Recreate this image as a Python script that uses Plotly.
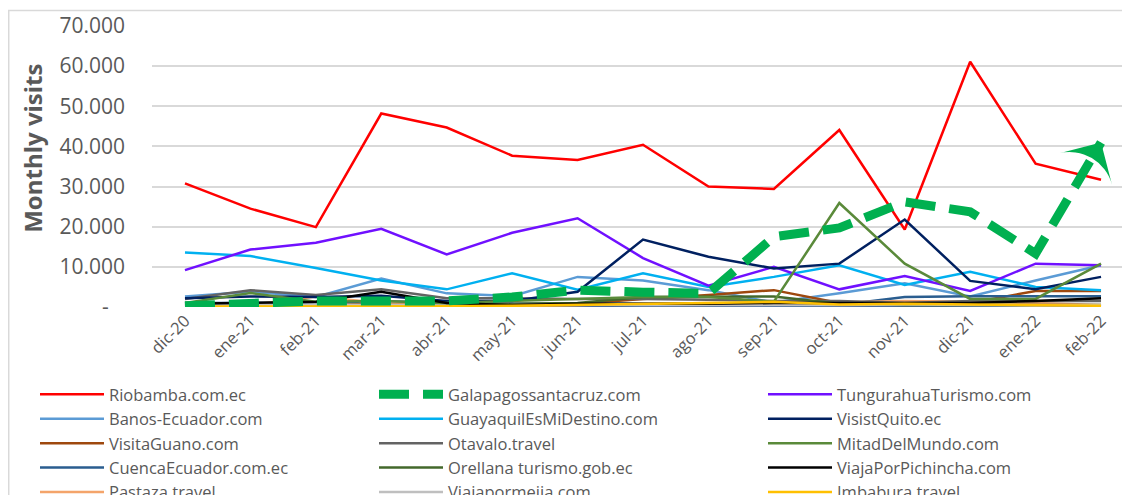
import plotly.graph_objects as go

months = ['dic-20', 'ene-21', 'feb-21', 'mar-21', 'abr-21', 'may-21', 'jun-21', 'jul-21',
          'ago-21', 'sep-21', 'oct-21', 'nov-21', 'dic-21', 'ene-22', 'feb-22']

riobamba = [30800, 24500, 19900, 48200, 44700, 37700, 36600, 40400, 30000, 29400, 44100, 19300, 61100, 35700, 31700]
galapagos = [300, 1000, 1500, 1500, 1500, 2500, 4200, 3700, 3400, 17500, 19700, 26200, 23700, 13300, 41000]
tungurahua = [9200, 14300, 16000, 19500, 13100, 18500, 22100, 12200, 5300, 10000, 4400, 7700, 4000, 10800, 10400]
banos = [2600, 3800, 2500, 7100, 3400, 2700, 7500, 6600, 4200, 1100, 3400, 5900, 2600, 6600, 10400]
guayaquil = [13600, 12700, 9700, 6600, 4400, 8400, 4300, 8400, 5000, 7500, 10400, 5500, 8800, 5000, 4200]
quito = [2200, 2600, 2500, 2800, 1500, 1500, 3800, 16800, 12500, 9600, 10800, 21800, 6500, 4400, 7500]
guano = [500, 600, 600, 800, 500, 500, 800, 2000, 3000, 4200, 1000, 1000, 1000, 4000, 4000]
otavalo = [2000, 4200, 3000, 4400, 2200, 2200, 2000, 2000, 1800, 1500, 1500, 1000, 1500, 1500, 1500]
mitad = [1000, 3500, 1300, 1500, 1000, 1500, 2000, 2500, 2500, 1300, 25900, 10800, 2000, 2000, 10800]
cuenca = [1000, 1000, 1000, 1500, 1000, 800, 800, 800, 800, 500, 500, 2500, 2700, 2700, 2700]
orellana = [500, 500, 500, 500, 500, 800, 1000, 2500, 2500, 2600, 800, 500, 500, 500, 500]
pichincha = [800, 1000, 1300, 3800, 1000, 500, 800, 800, 800, 1000, 1000, 1000, 1000, 1500, 2200]
pastaza = [300, 500, 2600, 1000, 300, 300, 500, 800, 1000, 800, 1200, 1500, 1300, 1000, 500]
mejia = [400, 500, 600, 500, 400, 500, 600, 500, 500, 400, 500, 600, 500, 400, 500]
imbabura = [100, 100, 200, 200, 200, 300, 500, 800, 1000, 1300, 600, 800, 600, 400, 300]
otros = [150, 100, 150, 200, 150, 100, 150, 200, 150, 100, 150, 200, 150, 100, 150]

y_ticks = [0, 10000, 20000, 30000, 40000, 50000, 60000, 70000]
y_labels = ['-\u00a0\u00a0\u00a0', '10.000', '20.000', '30.000', '40.000', '50.000', '60.000', '70.000']

GREY = '#595959'
FONT = 'Open Sans'

# (name, values, color, legend column, row)
series = [
    ('Riobamba.com.ec', riobamba, '#FF0000', 'legend', 1),
    ('Banos-Ecuador.com', banos, '#5B9BD5', 'legend', 2),
    ('VisitaGuano.com', guano, '#9E480E', 'legend', 3),
    ('CuencaEcuador.com.ec', cuenca, '#2A5D8F', 'legend', 4),
    ('Pastaza.travel', pastaza, '#F4A46A', 'legend', 5),
    ('GuayaquilEsMiDestino.com', guayaquil, '#00B0F0', 'legend2', 2),
    ('Otavalo.travel', otavalo, '#636363', 'legend2', 3),
    ('Orellana turismo.gob.ec', orellana, '#43682B', 'legend2', 4),
    ('Viajapormejia.com', mejia, '#BFBFBF', 'legend2', 5),
    ('TungurahuaTurismo.com', tungurahua, '#7010FF', 'legend3', 1),
    ('VisistQuito.ec', quito, '#002060', 'legend3', 2),
    ('MitadDelMundo.com', mitad, '#5A8A3A', 'legend3', 3),
    ('ViajaPorPichincha.com', pichincha, '#000000', 'legend3', 4),
    ('Imbabura.travel', imbabura, '#FFC000', 'legend3', 5),
]

fig = go.Figure()

fig.add_trace(go.Scatter(x=months, y=otros, mode='lines', name='otros', showlegend=False,
                         line=dict(color='#4A6A9A', width=3), hoverinfo='skip'))

for name, vals, color, leg, rank in series:
    fig.add_trace(go.Scatter(x=months, y=vals, mode='lines', name=name,
                             line=dict(color=color, width=2.5),
                             legend=leg, legendrank=rank))

# Galapagos on top, thick dashed with arrow at the end
fig.add_trace(go.Scatter(x=months, y=galapagos, mode='lines', name='Galapagossantacruz.com',
                         line=dict(color='#00B050', width=9, dash='30px,14px'),
                         legend='legend2', legendrank=1))
fig.add_trace(go.Scatter(x=months[-2:], y=galapagos[-2:], mode='markers', showlegend=False,
                         marker=dict(symbol='arrow-wide', angleref='previous', size=[0, 44],
                                     color='#00B050', opacity=1, line=dict(width=0)),
                         hoverinfo='skip'))

# page body has an 8px margin, so the figure coordinates are shifted by 8px
fig.update_layout(
    width=1130, height=495,
    margin=dict(l=144, r=0, t=17.5, b=196, autoexpand=False),
    plot_bgcolor='white', paper_bgcolor='white',
    font=dict(family=FONT, color=GREY),
)

leg_common = dict(xref='container', yref='container', yanchor='top', xanchor='left',
                  y=1 - 369 / 495, itemwidth=64, font=dict(family=FONT, size=16.5, color=GREY),
                  bgcolor='rgba(0,0,0,0)', tracegroupgap=0, traceorder='normal')
fig.update_layout(
    legend=dict(x=27 / 1130, **leg_common),
    legend2=dict(x=366 / 1130, **leg_common),
    legend3=dict(x=755 / 1130, **leg_common),
)

fig.update_xaxes(type='category', range=[-0.504, 14.565], showgrid=False, showline=False,
                 ticks='', tickangle=-45, tickfont=dict(family=FONT, size=16.5, color=GREY))
fig.update_yaxes(range=[0, 70000], tickvals=y_ticks, ticktext=y_labels, showgrid=True,
                 gridcolor='#D9D9D9', gridwidth=1.5, zeroline=False, showline=False,
                 ticklabelstandoff=26, tickfont=dict(family=FONT, size=21, color=GREY))

fig.add_annotation(text='<b>Monthly visits</b>', textangle=-90, xref='paper', yref='paper',
                   x=-0.1207, y=0.5666, xanchor='center', yanchor='middle', showarrow=False,
                   font=dict(family=FONT, size=24, color=GREY))

# chart frame
fig.add_shape(type='rect', xref='paper', yref='paper', x0=-0.1453, x1=1.2, y0=-1.0, y1=1.055,
              line=dict(color='#D9D9D9', width=1.5), layer='below')

fig.write_html('out.html')
